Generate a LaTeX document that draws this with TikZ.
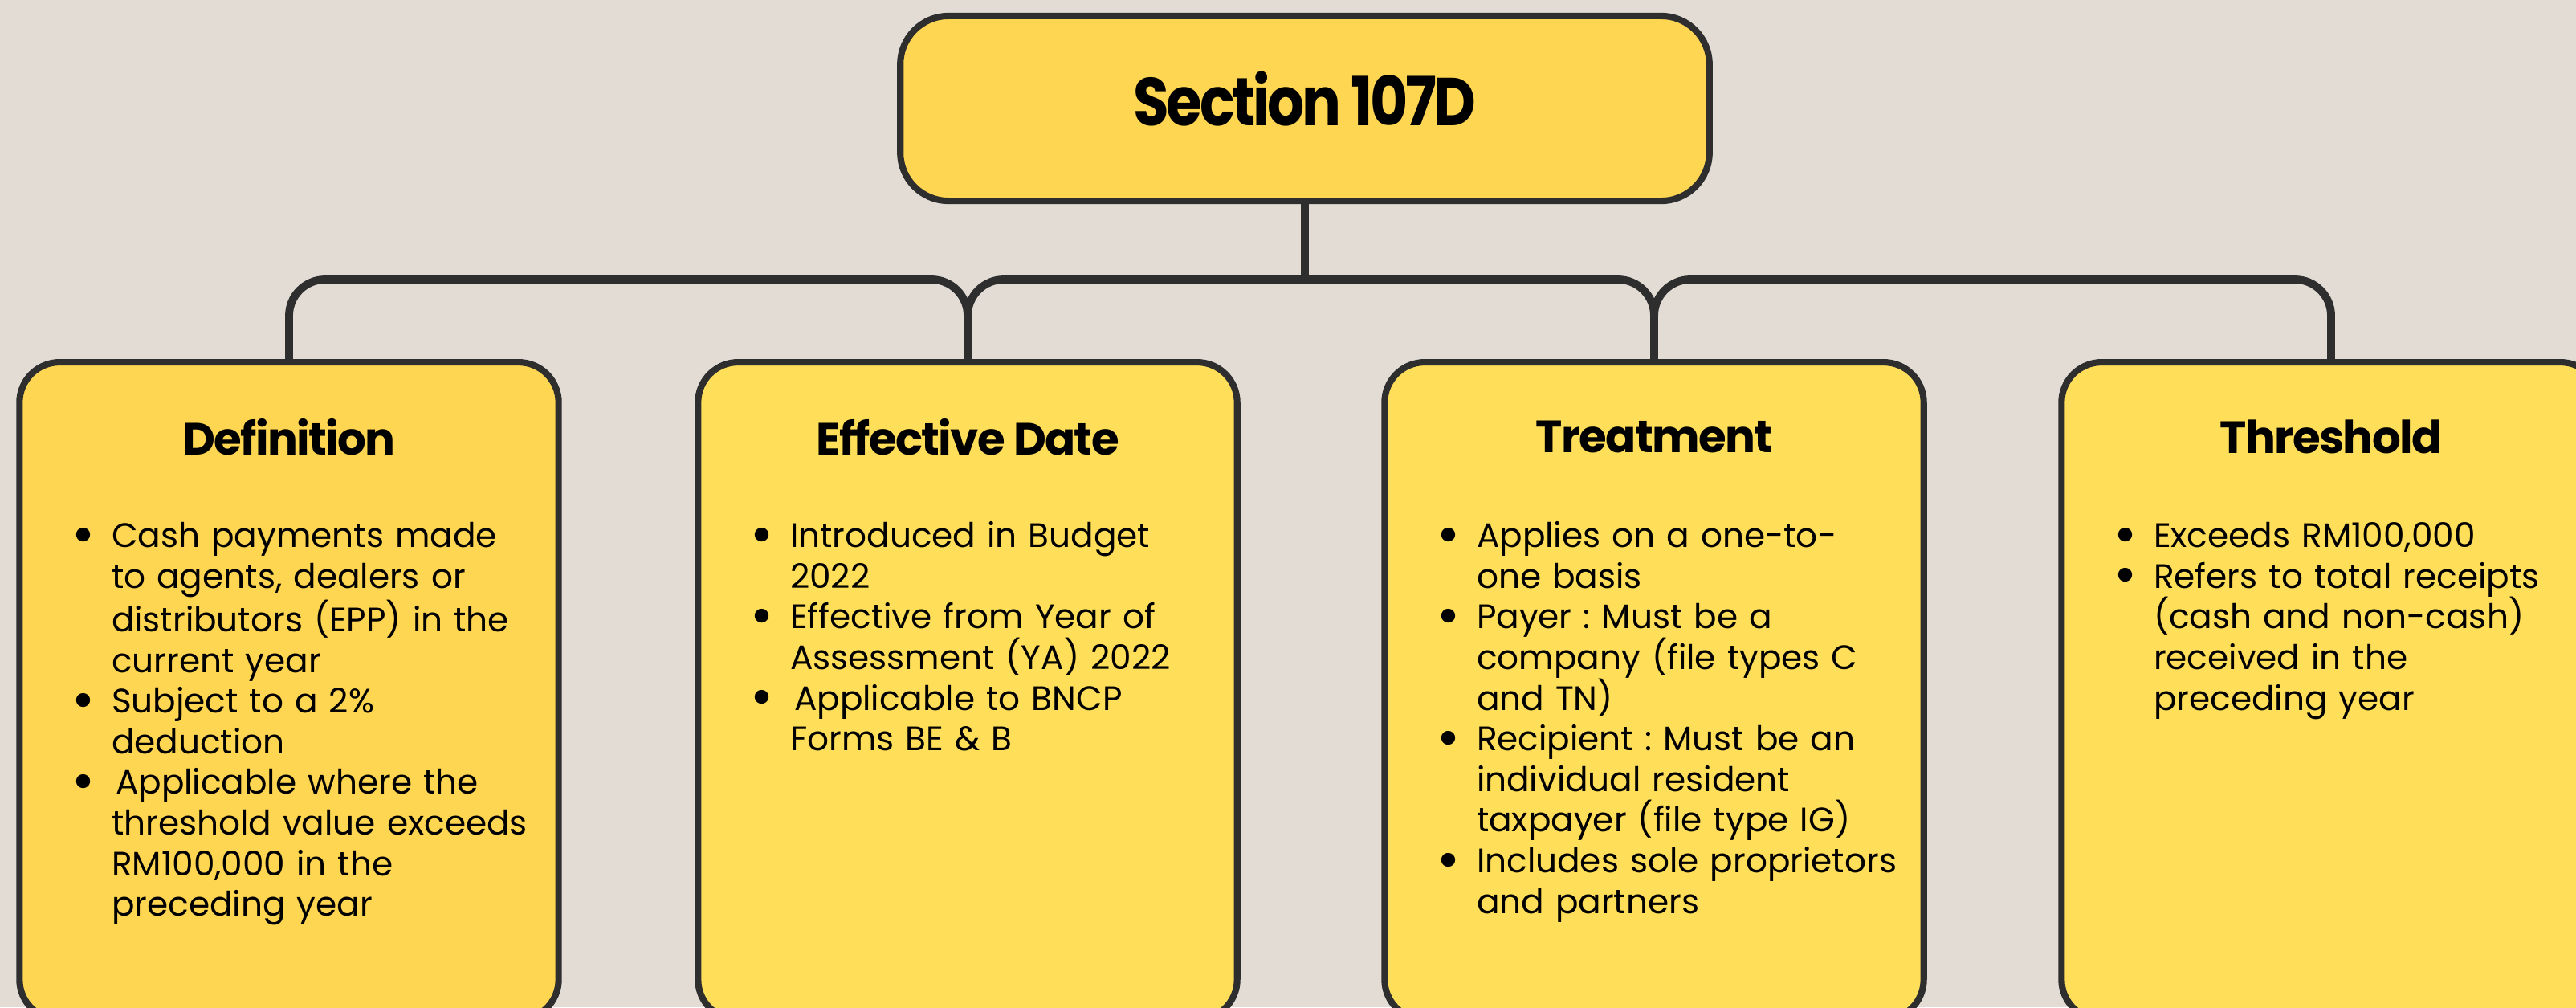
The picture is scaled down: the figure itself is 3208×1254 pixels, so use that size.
\documentclass[tikz,border=0pt]{standalone}
\usepackage{fontspec}
\setmainfont{Poppins}
\usetikzlibrary{positioning}
\definecolor{bgc}{HTML}{E2DCD5}
\definecolor{rootfill}{HTML}{FFD652}
\definecolor{cardfill}{HTML}{FFDE59}
\definecolor{edgec}{HTML}{2E2E2E}
\newfontfamily\ttlfont{Poppins}[LetterSpace=-3]
\newfontfamily\rootfont{Poppins}[LetterSpace=-4,FakeStretch=0.86]
\frenchspacing
\newcommand*{\bigdot}{\raisebox{-2.2pt}{\fontsize{20}{0}\selectfont\textbullet}}
\newcommand*{\bul}[1]{\par\hangindent=0.48cm\hangafter=1\noindent\makebox[0.48cm][l]{\makebox[0.26cm]{\bigdot}}#1\par}
\tikzset{%
  rootbox/.style={draw=edgec,line width=2.3pt,fill=rootfill,rounded corners=0.6cm,minimum width=10.07cm,minimum height=2.3cm,text depth=0.24cm,font=\rootfont\bfseries\fontsize{24}{28}\selectfont},
  card/.style={draw=edgec,line width=2.3pt,fill=cardfill,rounded corners=0.5cm,minimum width=6.71cm,minimum height=8.18cm,anchor=north},
  cardttl/.style={font=\ttlfont\bfseries\fontsize{16}{18}\selectfont,inner sep=0pt},
  cardtxt/.style={anchor=north west,text width=6.2cm,inner sep=0pt,font=\raggedright\fontsize{12}{14.4}\selectfont},
  link/.style={draw=edgec,line width=2.8pt,rounded corners=0.45cm},
}

\begin{document}
\begin{tikzpicture}[x=0.01cm,y=0.01cm]
  \fill[bgc] (0,0) rectangle (3208,-1254);
  \useasboundingbox (0,0) rectangle (3208,-1254);
  \node[rootbox] (root) at (1625,-135) {Section 107D};
  \coordinate (hub) at (1625,-348);
  % the four cards
  \node[card,fill=rootfill] (def) at (360,-447) {};
  \node[card] (eff) at (1205,-447) {};
  \node[card] (trt) at (2060,-447) {};
  \node[card] (thr) at (2903,-447) {};
  \node[cardttl] (defttl) at ([yshift=-0.97cm]def.north) {Definition};
  \node[cardttl] (effttl) at ([yshift=-0.97cm]eff.north) {Effective Date};
  \node[cardttl] (trtttl) at ([yshift=-0.97cm]trt.north) {Treatment};
  \node[cardttl] (thrttl) at ([yshift=-0.97cm]thr.north) {Threshold};
  \node[cardtxt] (deftxt) at ([xshift=0.7cm,yshift=-1.83cm]def.north west) {%
    \bul{Cash payments made\newline to agents, dealers or\newline distributors (EPP) in the\newline current year}
    \bul{Subject to a 2\%\newline deduction}
    \bul{\hspace{0.05cm}Applicable where the\newline threshold value exceeds\newline RM100,000 in the\newline preceding year}};
  \node[cardtxt] (efftxt) at ([xshift=0.7cm,yshift=-1.83cm]eff.north west) {%
    \bul{Introduced in Budget\newline 2022}
    \bul{Effective from Year of\newline Assessment (YA) 2022}
    \bul{\hspace{0.05cm}Applicable to BNCP\newline Forms BE \& B}};
  \node[cardtxt] (trttxt) at ([xshift=0.7cm,yshift=-1.83cm]trt.north west) {%
    \bul{Applies on a one-to-\newline one basis}
    \bul{Payer : Must be a\newline company (file types C\newline and TN)}
    \bul{Recipient : Must be an\newline individual resident\newline taxpayer (file type IG)}
    \bul{Includes sole proprietors\newline and partners}};
  \node[cardtxt] (thrtxt) at ([xshift=0.7cm,yshift=-1.83cm]thr.north west) {%
    \bul{Exceeds RM100,000}
    \bul{Refers to total receipts\newline (cash and non-cash)\newline received in the\newline preceding year}};
  % connectors
  \draw[link] (root.south) -- (hub);
  \draw[link] (def.north) -- ++(0,99) -| (eff.north);
  \draw[link] (eff.north) -- ++(0,99) -| (trt.north);
  \draw[link] (trt.north) -- ++(0,99) -| (thr.north);
\end{tikzpicture}
\end{document}
